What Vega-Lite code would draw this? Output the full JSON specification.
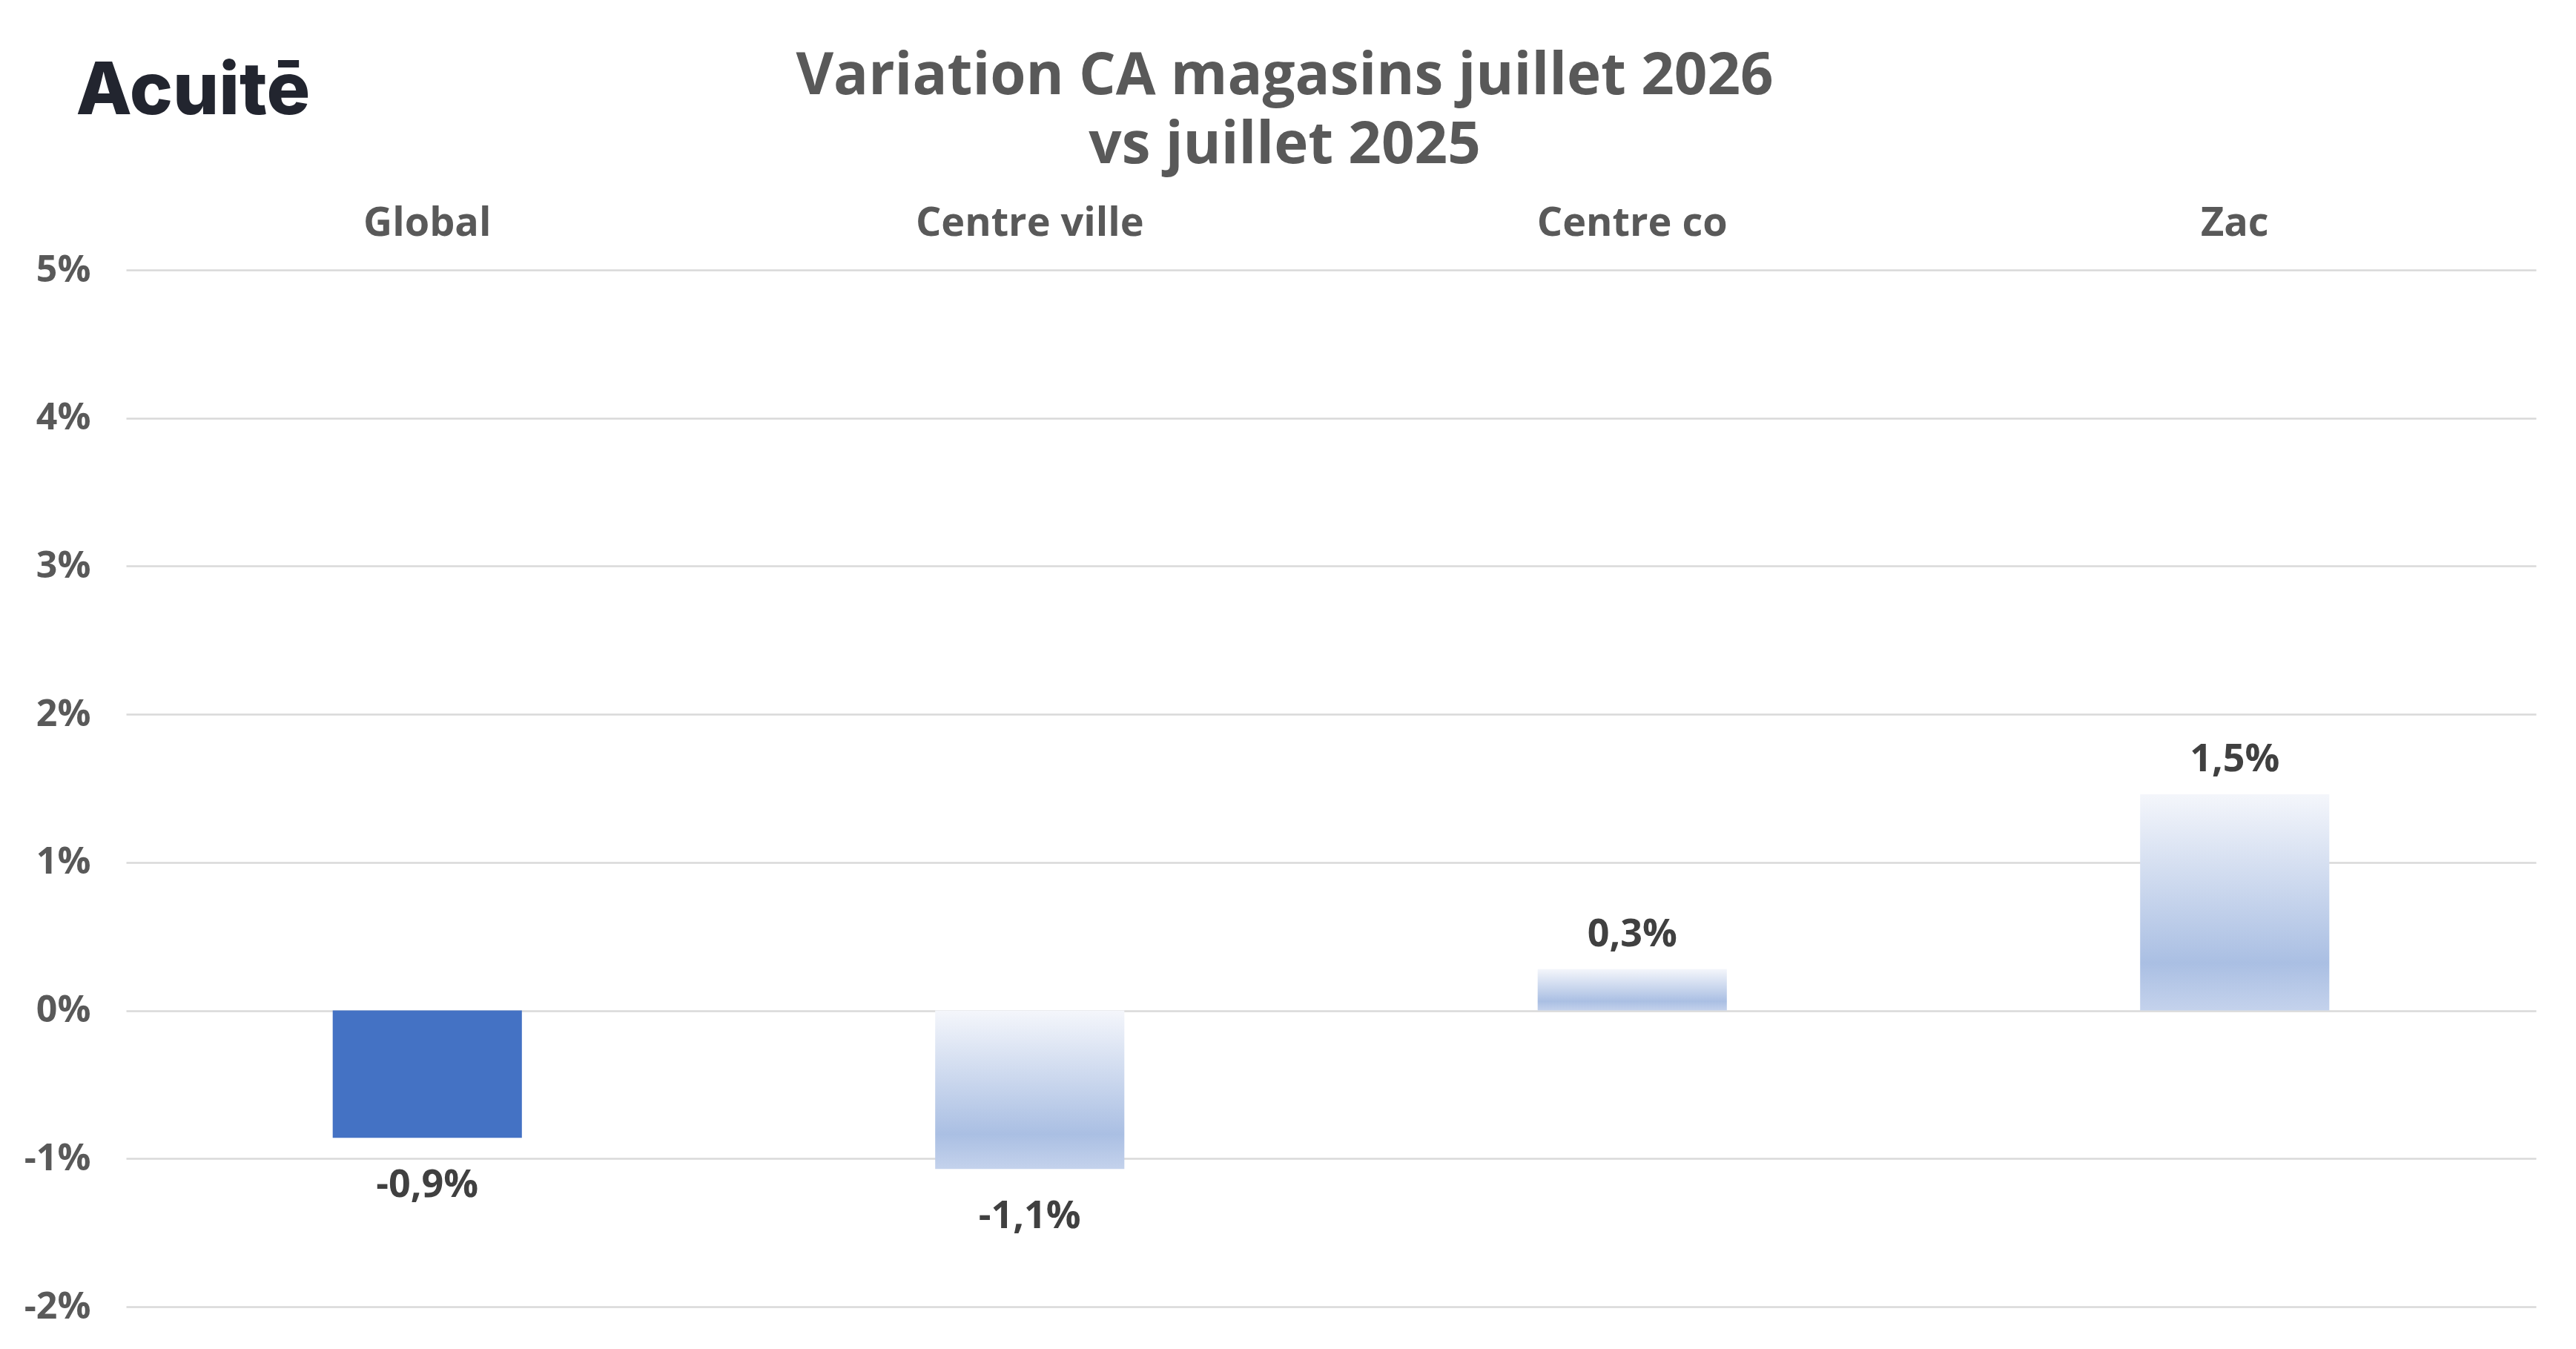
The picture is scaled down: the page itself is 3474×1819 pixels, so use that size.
{
  "$schema": "https://vega.github.io/schema/vega-lite/v6.json",
  "width": 3250,
  "height": 1398,
  "autosize": {"type": "none"},
  "padding": {"left": 170, "top": 364, "right": 54, "bottom": 57},
  "background": "white",
  "config": {
    "view": {"stroke": null},
    "font": "Open Sans",
    "locale": {
      "number": {
        "decimal": ",",
        "thousands": " ",
        "grouping": [3],
        "currency": ["", " €"],
        "minus": "-"
      }
    }
  },
  "data": {
    "values": [
      {"zone": "Global", "variation": -0.0086},
      {"zone": "Centre ville", "variation": -0.0107},
      {"zone": "Centre co", "variation": 0.0028},
      {"zone": "Zac", "variation": 0.0146}
    ]
  },
  "encoding": {
    "x": {
      "field": "zone",
      "type": "nominal",
      "sort": null,
      "scale": {"paddingInner": 0, "paddingOuter": 0},
      "axis": {
        "orient": "top",
        "title": "Acuitē",
        "titleFont": "Inter",
        "titleFontSize": 98,
        "titleFontWeight": 800,
        "titleColor": "#22252f",
        "titleX": -68,
        "titleY": -211,
        "titleAlign": "left",
        "titleBaseline": "alphabetic",
        "titleAngle": 0,
        "labelAngle": 0,
        "labelLimit": 0,
        "labelFont": "Open Sans",
        "labelFontSize": 54,
        "labelFontWeight": "bold",
        "labelColor": "#595959",
        "labelBaseline": "alphabetic",
        "labelPadding": 47,
        "domain": false,
        "ticks": false,
        "tickSize": 0
      }
    },
    "y": {
      "field": "variation",
      "type": "quantitative",
      "scale": {"domain": [-0.02, 0.05], "nice": false},
      "axis": {
        "values": [-0.02, -0.01, 0, 0.01, 0.02, 0.03, 0.04, 0.05],
        "format": ".0%",
        "title": ["Variation CA magasins juillet 2026", "vs juillet 2025"],
        "titleFont": "Open Sans",
        "titleFontSize": 78,
        "titleFontWeight": "bold",
        "titleColor": "#595959",
        "titleLineHeight": 93,
        "titleAngle": 0,
        "titleX": 1562,
        "titleY": -238,
        "titleAlign": "center",
        "titleBaseline": "alphabetic",
        "labelFont": "Open Sans",
        "labelFontSize": 50,
        "labelFontWeight": "bold",
        "labelColor": "#595959",
        "labelPadding": 48,
        "domain": false,
        "ticks": false,
        "tickSize": 0,
        "grid": true,
        "gridColor": "#d9d9d9",
        "gridWidth": 2.5
      }
    }
  },
  "layer": [
    {
      "transform": [{"filter": "datum.zone == 'Global'"}],
      "mark": {"type": "bar", "color": "#4472c4", "width": {"band": 0.314}}
    },
    {
      "transform": [{"filter": "datum.zone != 'Global'"}],
      "mark": {
        "type": "bar",
        "width": {"band": 0.314},
        "color": {
          "gradient": "linear",
          "x1": 0,
          "y1": 0,
          "x2": 0,
          "y2": 1,
          "stops": [
            {"offset": 0, "color": "#f4f6fb"},
            {"offset": 0.78, "color": "#aabfe3"},
            {"offset": 1, "color": "#c4d2ec"}
          ]
        }
      }
    },
    {
      "transform": [{"filter": "datum.variation >= 0"}],
      "mark": {
        "type": "text",
        "font": "Open Sans",
        "fontSize": 52,
        "fontWeight": "bold",
        "color": "#404040",
        "baseline": "alphabetic",
        "dy": -31
      },
      "encoding": {
        "text": {"field": "variation", "type": "quantitative", "format": ".1%"}
      }
    },
    {
      "transform": [{"filter": "datum.variation < 0"}],
      "mark": {
        "type": "text",
        "font": "Open Sans",
        "fontSize": 52,
        "fontWeight": "bold",
        "color": "#404040",
        "baseline": "alphabetic",
        "dy": 80
      },
      "encoding": {
        "text": {"field": "variation", "type": "quantitative", "format": ".1%"}
      }
    }
  ]
}
